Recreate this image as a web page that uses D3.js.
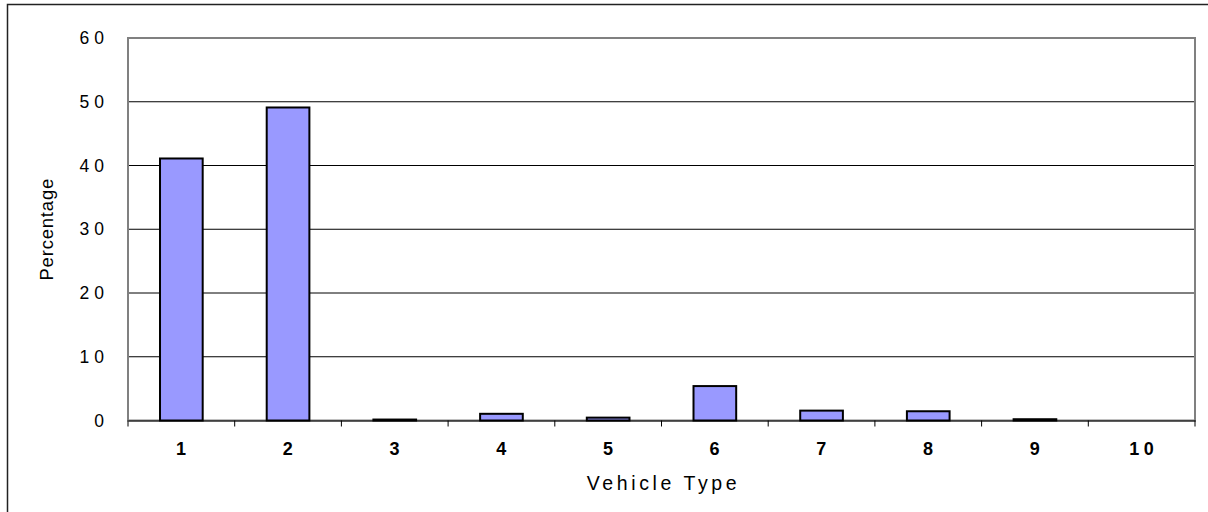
<!DOCTYPE html>
<html>
<head>
<meta charset="utf-8">
<script src="https://cdn.jsdelivr.net/npm/d3@7"></script>
<style>
  body { margin: 0; background: #fff; }
  svg { display: block; font-family: "Liberation Sans", Arial, sans-serif; }
</style>
</head>
<body>
<div id="chart"></div>
<script>
// vehicle types and their share (%)
var categories = ["1", "2", "3", "4", "5", "6", "7", "8", "9", "10"];
var percentages = [41.1, 49.1, 0.15, 1.05, 0.45, 5.4, 1.55, 1.45, 0.2, 0];
var yTicks = [0, 10, 20, 30, 40, 50, 60];

var width = 1208, height = 512;
var margin = { left: 128, right: 13, top: 38, bottom: 91.5 };

var svg = d3.select("#chart")
  .append("svg")
  .attr("width", width)
  .attr("height", height);

// outer frame (only top and left edges are inside the picture)
svg.append("rect")
  .attr("x", 7.5).attr("y", 4.5)
  .attr("width", width + 10).attr("height", height + 10)
  .attr("fill", "#fff")
  .attr("stroke", "#222")
  .attr("stroke-width", 1.5);

var x = d3.scaleBand()
  .domain(categories)
  .range([margin.left, width - margin.right])
  .paddingInner(0.6)
  .paddingOuter(0.3);

var y = d3.scaleLinear()
  .domain([0, 60])
  .range([height - margin.bottom, margin.top]);

// gridlines
svg.append("g")
  .selectAll("line")
  .data(yTicks.filter(function(d) { return d > 0 && d < 60; }))
  .join("line")
  .attr("x1", margin.left).attr("x2", width - margin.right)
  .attr("y1", function(d) { return y(d); })
  .attr("y2", function(d) { return y(d); })
  .attr("stroke", "#000")
  .attr("stroke-width", 1);

// plot border
svg.append("rect")
  .attr("x", margin.left).attr("y", margin.top)
  .attr("width", width - margin.right - margin.left)
  .attr("height", y(0) - margin.top)
  .attr("fill", "none")
  .attr("stroke", "#808080")
  .attr("stroke-width", 2);

// bars
svg.append("g")
  .selectAll("rect")
  .data(percentages)
  .join("rect")
  .attr("x", function(d, i) { return x(categories[i]); })
  .attr("width", x.bandwidth())
  .attr("y", function(d) { return y(d); })
  .attr("height", function(d) { return y(0) - y(d); })
  .attr("fill", "#9999ff")
  .attr("stroke", "#000")
  .attr("stroke-width", function(d) { return d > 0 ? 2 : 0; });

// x axis
var xAxis = svg.append("g")
  .attr("transform", "translate(0," + y(0) + ")")
  .call(d3.axisBottom(x).tickSize(0).tickPadding(22));
xAxis.select(".domain").attr("stroke", "#000").attr("stroke-width", 1);
xAxis.selectAll("text")
  .attr("font-size", 18)
  .attr("font-weight", "bold")
  .attr("fill", "#000")
  .attr("dx", 2)
  .style("letter-spacing", "4.5px");

// tick marks between categories
var step = x.step();
svg.append("g")
  .selectAll("line")
  .data(d3.range(categories.length + 1))
  .join("line")
  .attr("x1", function(i) { return margin.left + i * step; })
  .attr("x2", function(i) { return margin.left + i * step; })
  .attr("y1", y(0)).attr("y2", y(0) + 6)
  .attr("stroke", "#000");

// y axis
var yAxis = svg.append("g")
  .attr("transform", "translate(" + margin.left + ",0)")
  .call(d3.axisLeft(y).tickValues(yTicks).tickSize(0).tickPadding(19));
yAxis.select(".domain").remove();
yAxis.selectAll("text")
  .attr("font-size", 17.5)
  .attr("fill", "#000")
  .style("letter-spacing", "5px");

// axis titles
svg.append("text")
  .attr("x", (margin.left + width - margin.right) / 2 + 2)
  .attr("y", 490)
  .attr("text-anchor", "middle")
  .attr("font-size", 19.5)
  .style("letter-spacing", "3.6px")
  .text("Vehicle Type");

svg.append("text")
  .attr("transform", "translate(53," + ((margin.top + y(0)) / 2) + ") rotate(-90)")
  .attr("text-anchor", "middle")
  .attr("font-size", 18.5)
  .style("letter-spacing", "0.8px")
  .text("Percentage");
</script>
</body>
</html>
